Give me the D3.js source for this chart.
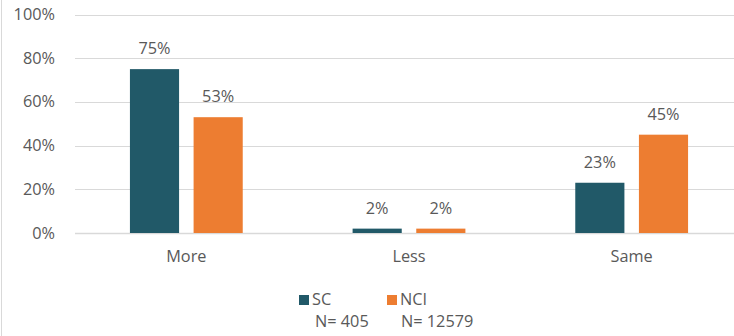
<!DOCTYPE html>
<html><head><meta charset="utf-8">
<script src="https://cdn.jsdelivr.net/npm/d3@7"></script>
<style>body{margin:0;background:#fff}svg{display:block}text{font-family:"Open Sans",sans-serif;fill:#595959}</style>
</head><body>
<script>
const categories = ["More", "Less", "Same"];
const seriesNames = ["SC", "NCI"];
const scValues = [75, 2, 23];
const nciValues = [53, 2, 45];
const seriesN = ["N= 405", "N= 12579"];
const yTicks = [0, 20, 40, 60, 80, 100];
const colors = ["#215968", "#ED7D31"];

const W = 734, H = 336, FS = 16.3;
const svg = d3.select("body").append("svg").attr("width", W).attr("height", H);
svg.append("line").attr("x1", 1.5).attr("x2", 1.5).attr("y1", 0).attr("y2", H).attr("stroke", "#D9D9D9");

const x = d3.scaleBand().domain(categories).range([75, 743]).paddingInner(0).paddingOuter(0);
const y = d3.scaleLinear().domain([0, 100]).range([233, 14.5]);
const inner = d3.scaleBand().domain(seriesNames).range([0, x.bandwidth()]).paddingInner(0.228).paddingOuter(0.863);

svg.append("g").selectAll("line").data(yTicks).join("line")
  .attr("x1", 75).attr("x2", W).attr("y1", d => Math.round(y(d)) + 0.5).attr("y2", d => Math.round(y(d)) + 0.5)
  .attr("stroke", "#D9D9D9").attr("stroke-width", d => d === 0 ? 1.5 : 1);

svg.append("g").selectAll("text").data(yTicks).join("text")
  .attr("x", 55).attr("y", d => y(d) + 5.5).attr("text-anchor", "end").attr("font-size", FS)
  .text(d => d + "%");

const data = [];
categories.forEach((c, i) => {
  data.push({c, s: "SC", v: scValues[i], k: 0});
  data.push({c, s: "NCI", v: nciValues[i], k: 1});
});

svg.append("g").selectAll("rect").data(data).join("rect")
  .attr("x", d => x(d.c) + inner(d.s)).attr("width", inner.bandwidth())
  .attr("y", d => y(d.v)).attr("height", d => y(0) - y(d.v))
  .attr("fill", d => colors[d.k]);

svg.append("g").selectAll("text").data(data).join("text")
  .attr("x", d => x(d.c) + inner(d.s) + inner.bandwidth() / 2)
  .attr("y", d => y(d.v) - 15).attr("text-anchor", "middle").attr("font-size", FS)
  .text(d => d.v + "%");

svg.append("g").selectAll("text").data(categories).join("text")
  .attr("x", d => x(d) + x.bandwidth() / 2).attr("y", 262).attr("text-anchor", "middle").attr("font-size", FS)
  .text(d => d);

const legX = [299, 387];
const leg = svg.append("g").selectAll("g").data(seriesNames).join("g")
  .attr("transform", (d, i) => `translate(${legX[i]},0)`);
leg.append("rect").attr("x", 0).attr("y", 295).attr("width", 10).attr("height", 10).attr("fill", (d, i) => colors[i]);
leg.append("text").attr("x", 13).attr("y", 305).attr("font-size", FS).text(d => d);
leg.append("text").attr("x", (d, i) => i === 0 ? 16 : 14).attr("y", 327).attr("font-size", FS).text((d, i) => seriesN[i]);
</script>
</body></html>
